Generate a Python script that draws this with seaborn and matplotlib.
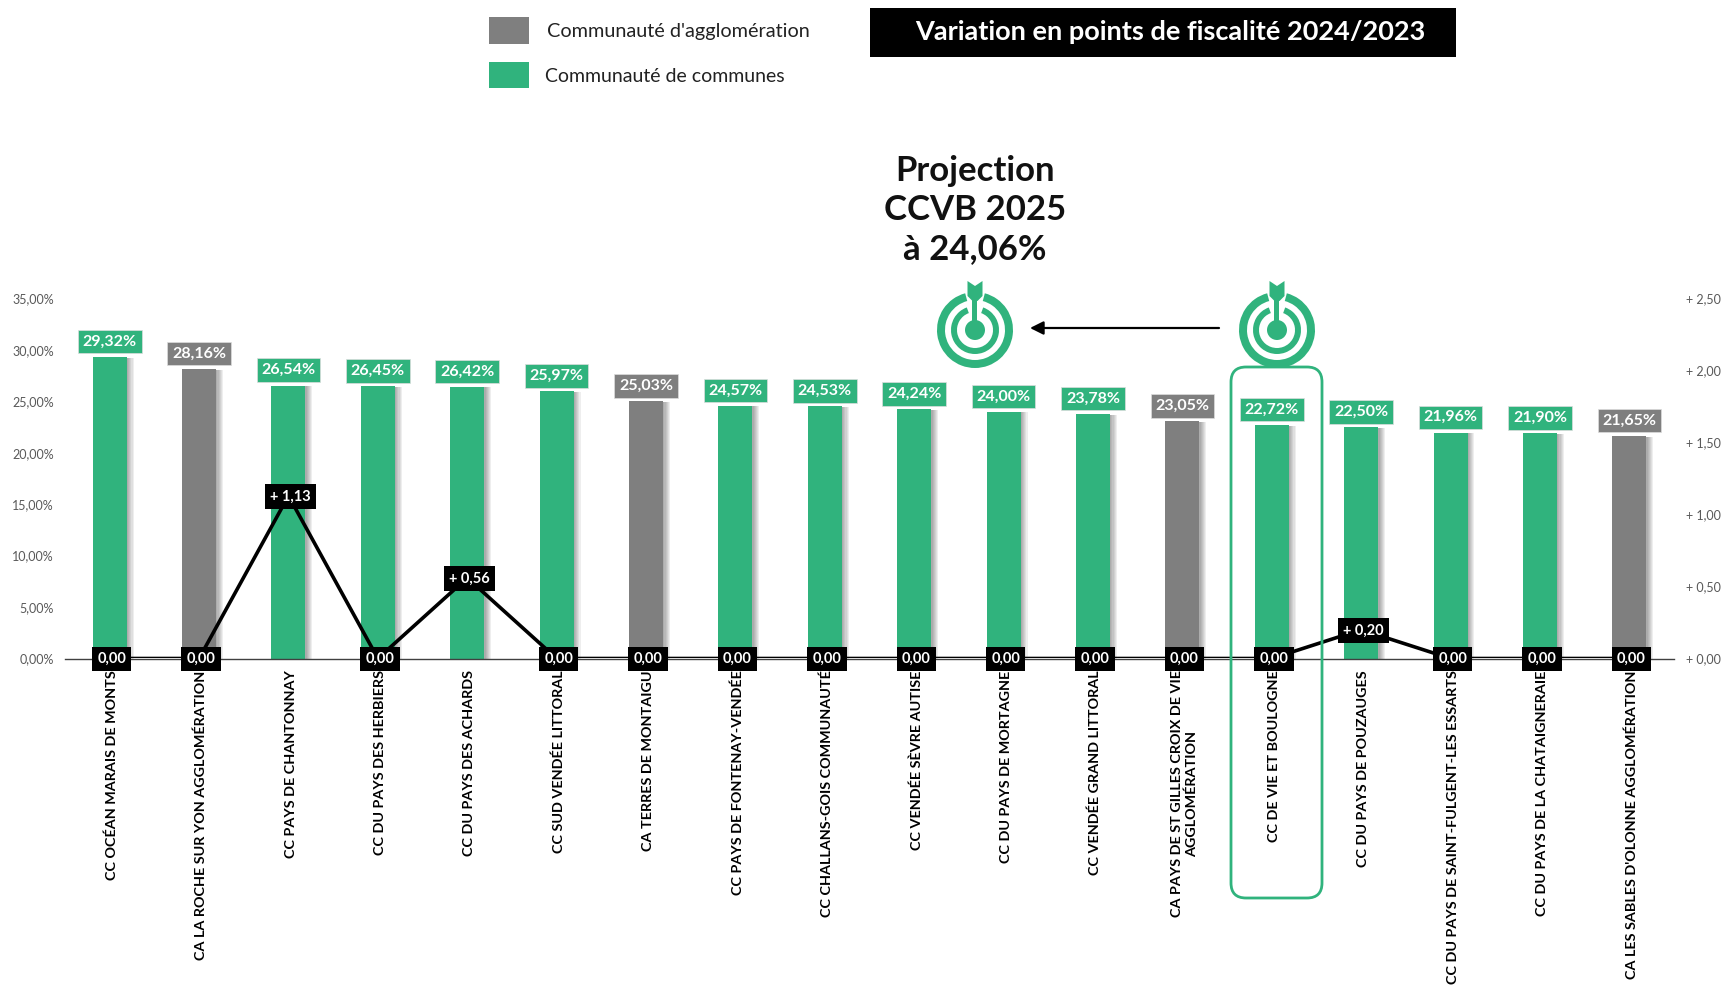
# -*- coding: utf-8 -*-
import matplotlib
matplotlib.use("Agg")
import matplotlib.pyplot as plt
import matplotlib.patheffects as pe
from matplotlib.patches import Rectangle, Wedge, Circle, Polygon, FancyBboxPatch
from matplotlib.transforms import ScaledTranslation
import pandas as pd
import seaborn as sns

VERT = "#30B37D"
GRIS = "#7F7F7F"
GRIS_TXT = "#595959"

territoires = [
    "CC OCÉAN MARAIS DE MONTS", "CA LA ROCHE SUR YON AGGLOMÉRATION", "CC PAYS DE CHANTONNAY",
    "CC DU PAYS DES HERBIERS", "CC DU PAYS DES ACHARDS", "CC SUD VENDÉE LITTORAL",
    "CA TERRES DE MONTAIGU", "CC PAYS DE FONTENAY-VENDÉE", "CC CHALLANS-GOIS COMMUNAUTÉ",
    "CC VENDÉE SÈVRE AUTISE", "CC DU PAYS DE MORTAGNE", "CC VENDÉE GRAND LITTORAL",
    "CA PAYS DE ST GILLES CROIX DE VIE\nAGGLOMÉRATION", "CC DE VIE ET BOULOGNE",
    "CC DU PAYS DE POUZAUGES", "CC DU PAYS DE SAINT-FULGENT-LES ESSARTS",
    "CC DU PAYS DE LA CHATAIGNERAIE", "CA LES SABLES D'OLONNE AGGLOMÉRATION",
]
types = ["CC", "CA", "CC", "CC", "CC", "CC", "CA", "CC", "CC", "CC", "CC", "CC", "CA", "CC", "CC", "CC", "CC", "CA"]
taux = [29.32, 28.16, 26.54, 26.45, 26.42, 25.97, 25.03, 24.57, 24.53, 24.24, 24.00, 23.78, 23.05, 22.72, 22.50, 21.96, 21.90, 21.65]
variation = [0, 0, 1.13, 0, 0.56, 0, 0, 0, 0, 0, 0, 0, 0, 0, 0.20, 0, 0, 0]

ticks_gauche = [0, 5, 10, 15, 20, 25, 30, 35]
ticks_droite = [0, 0.5, 1, 1.5, 2, 2.5]


def virgule(v):
    return f"{v:.2f}".replace(".", ",")


sns.set_theme(style="white")
plt.rcParams["font.family"] = ["Lato", "DejaVu Sans"]

W, H = 1724, 985
fig = plt.figure(figsize=(W / 100, H / 100), dpi=100)
ax = fig.add_axes([65 / W, 1 - 658.5 / H, (1674 - 65) / W, 360 / H])

df = pd.DataFrame({"territoire": territoires, "type": types, "taux": taux})
sns.barplot(data=df, x="territoire", y="taux", hue="type", palette={"CC": VERT, "CA": GRIS},
            dodge=False, width=0.38, legend=False, ax=ax, saturation=1, linewidth=0)

# ombre portee a droite des barres
for p in ax.patches:
    p.set_path_effects(
        [pe.SimplePatchShadow(offset=(d, -0.5), alpha=0.07, shadow_rgbFace="k") for d in (5, 4.2, 3.4, 2.6, 1.8, 1)]
        + [pe.Normal()]
    )

ax.set_xlim(-0.5, 17.5)
ax.set_ylim(0, 35)
ax.set_xlabel("")
ax.set_ylabel("")
ax.set_yticks(ticks_gauche)
ax.set_yticklabels([virgule(t) + "%" for t in ticks_gauche], fontsize=9, color=GRIS_TXT)
ax.tick_params(axis="y", length=0, pad=8)
ax.tick_params(axis="x", length=0, pad=8.5)
ax.set_xticks(range(len(territoires)))
ax.set_xticklabels(territoires, rotation=90, fontsize=10.35, color="black", fontweight="bold",
                   va="top", ha="center", linespacing=1.2)
decale = ScaledTranslation(1.5 / 72, 0, fig.dpi_scale_trans)
for lab in ax.get_xticklabels():
    lab.set_transform(lab.get_transform() + decale)
for s in ["top", "left", "right"]:
    ax.spines[s].set_visible(False)
ax.spines["bottom"].set_color("#404040")
ax.spines["bottom"].set_linewidth(1)

# etiquettes des taux
for i, (v, t) in enumerate(zip(taux, types)):
    c = VERT if t == "CC" else GRIS
    ax.annotate(virgule(v) + "%", (i, v), xytext=(0, 6), textcoords="offset points",
                ha="center", va="bottom", color="white", fontsize=11.5, fontweight="bold",
                bbox=dict(boxstyle="square,pad=0.3", fc=c, ec="#DDDDDD", lw=0.5), zorder=5)

# courbe de variation, axe secondaire
ax2 = ax.twinx()
sns.lineplot(x=list(range(len(variation))), y=variation, color="black", lw=2.6, ax=ax2,
             errorbar=None, sort=False, zorder=6)
ax2.set_ylim(0, 2.5)
ax2.set_xlim(-0.5, 17.5)
ax2.set_yticks(ticks_droite)
ax2.set_yticklabels(["+ " + virgule(t) for t in ticks_droite], fontsize=9, color=GRIS_TXT)
ax2.tick_params(axis="y", length=0, pad=9)
for s in ax2.spines.values():
    s.set_visible(False)
for i, v in enumerate(variation):
    txt = virgule(v) if v == 0 else "+ " + virgule(v)
    ax2.annotate(txt, (i, v), xytext=(1.5, -0.5), textcoords="offset points", ha="center", va="center",
                 color="white", fontsize=10.5, fontweight="bold",
                 bbox=dict(boxstyle="square,pad=0.36", fc="black", ec="none"),
                 annotation_clip=False, zorder=7)

# calque en pixels pour la legende, le titre et les pictos
over = fig.add_axes([0, 0, 1, 1], zorder=10)
over.set_xlim(0, W)
over.set_ylim(H, 0)
over.axis("off")
over.patch.set_alpha(0)

over.add_patch(Rectangle((489, 17), 40, 27, fc=GRIS, ec="none"))
over.add_patch(Rectangle((489, 62), 40, 26, fc=VERT, ec="none"))
over.text(547, 31, "Communauté d'agglomération", fontsize=14.3, color="#222222", va="center")
over.text(545, 76, "Communauté de communes", fontsize=14, color="#222222", va="center")

over.add_patch(Rectangle((870, 8), 586, 49, fc="black", ec="none"))
over.text(1170, 32, "Variation en points de fiscalité 2024/2023", fontsize=19.5, color="white",
          fontweight="bold", ha="center", va="center")

over.text(975, 210, "Projection\nCCVB 2025\nà 24,06%", fontsize=25, color="#111111", fontweight="bold",
          ha="center", va="center", linespacing=1.27)


def cible(x, y):
    for r, e, g in [(38, 8, 15), (24, 6, 20)]:
        over.add_patch(Wedge((x, y), r, 270 + g, 270 - g + 360, width=e, fc=VERT, ec="none"))
    over.add_patch(Circle((x, y), 10, fc=VERT, ec="none"))
    over.add_patch(Rectangle((x - 2.5, 296), 5, y - 296, fc=VERT, ec="none"))
    over.add_patch(Polygon([(x - 7.5, 281), (x, 286), (x + 7.5, 281), (x + 7.5, 296),
                            (x + 2.5, 301), (x - 2.5, 301), (x - 7.5, 296)], fc=VERT, ec="none"))


cible(975, 330)
cible(1277, 330)
over.annotate("", xy=(1030, 328), xytext=(1219, 328),
              arrowprops=dict(arrowstyle="-|>", color="black", lw=1.6, mutation_scale=20, shrinkA=0, shrinkB=0))

over.add_patch(FancyBboxPatch((1246, 382), 61, 501, boxstyle="round,pad=15,rounding_size=15",
                              fc="none", ec=VERT, lw=2))

fig.savefig("out.png", dpi=100)
